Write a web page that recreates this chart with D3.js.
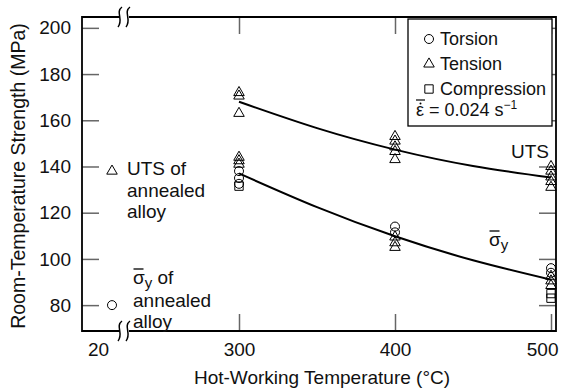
<!DOCTYPE html>
<html>
<head>
<meta charset="utf-8">
<script src="https://cdn.jsdelivr.net/npm/d3@7"></script>
<style>
	body { margin: 0; background: #fff; }
	text { font-family: "Liberation Sans", Arial, Helvetica, sans-serif; fill: #111; }
</style>
</head>
<body>
<div id="chart"></div>
<script>
const yTicks = [80, 100, 120, 140, 160, 180, 200]
const xTicks = [300, 400, 500]
const leftTicks = [20]

// fitted curves, read at 50 degree steps
const fitTemps = [300, 350, 400, 450, 500]
const utsFit = [168, 156.6, 147.3, 140.2, 135.2]
const yieldFit = [137, 122.4, 109.8, 99.4, 91]

// measured points
const tensionUTS = [
	[300, 172], [300, 170.5], [300, 163],
	[400, 153], [400, 151], [400, 148.5], [400, 146.5], [400, 143],
	[500, 140], [500, 138], [500, 135.5], [500, 133.5], [500, 131]
]
const tensionYield = [
	[300, 144], [300, 142.5], [300, 141],
	[400, 109.5], [400, 107], [400, 105],
	[500, 92.5], [500, 90.5], [500, 88.5]
]
const torsionYield = [
	[300, 138], [300, 135], [300, 132.5],
	[400, 114], [400, 111.5],
	[500, 96], [500, 94]
]
const compressionYield = [
	[300, 131.5],
	[500, 85], [500, 83]
]
const annealedTemp = 25
const annealedUTS = 138
const annealedYield = 80

const dimensions = { width: 561, height: 392 }
const margin = { top: 17, right: 5, bottom: 61, left: 82 }

const svg = d3.select('#chart')
	.append('svg')
		.attr('width', dimensions.width)
		.attr('height', dimensions.height)

const x0 = margin.left
const x1 = dimensions.width - margin.right
const y0 = margin.top
const y1 = dimensions.height - margin.bottom

const x = d3.scaleLinear()
	.domain([300, 500])
	.range([239, 551])

const xLeft = d3.scaleLinear()
	.domain([20, 25])
	.range([98, 112])

const y = d3.scaleLinear()
	.domain([68.8, 204.7])
	.range([y1, y0])

const tickColor = '#666'

// axes with inward ticks
const gy = svg.append('g')
	.attr('transform', `translate(${x0},0)`)
	.call(d3.axisLeft(y).tickValues(yTicks).tickSizeInner(-17).tickSizeOuter(0).tickPadding(11))
gy.select('.domain').remove()

const gyr = svg.append('g')
	.attr('transform', `translate(${x1},0)`)
	.call(d3.axisRight(y).tickValues(yTicks).tickSizeInner(-17).tickSizeOuter(0).tickFormat(''))
gyr.select('.domain').remove()

const gx = svg.append('g')
	.attr('transform', `translate(0,${y1})`)
	.call(d3.axisBottom(x).tickValues(xTicks).tickSizeInner(-17).tickSizeOuter(0).tickPadding(12))
gx.select('.domain').remove()
// last label pulled in so it stays on the page
gx.selectAll('.tick text')
	.filter(d => d === 500)
	.attr('text-anchor', 'end')
	.attr('x', 558 - x(500))

const gxl = svg.append('g')
	.attr('transform', `translate(0,${y1})`)
	.call(d3.axisBottom(xLeft).tickValues(leftTicks).tickFormat(d3.format('d')).tickSize(0).tickPadding(12))
gxl.select('.domain').remove()

const gxt = svg.append('g')
	.attr('transform', `translate(0,${y0})`)
	.call(d3.axisTop(x).tickValues(xTicks).tickSizeInner(-17).tickSizeOuter(0).tickFormat(''))
gxt.select('.domain').remove()

svg.selectAll('.tick line')
	.attr('stroke', tickColor)
	.attr('stroke-width', 1.5)
svg.selectAll('.tick text')
	.attr('font-size', 19)
	.attr('fill', '#111')
	.style('font-family', '"Liberation Sans", Arial, sans-serif')

// frame
const breakX = 124
svg.append('path')
	.attr('fill', 'none')
	.attr('stroke', '#000')
	.attr('stroke-width', 1.8)
	.attr('d', `M${breakX - 5},${y0}H${x0}V${y1}H${breakX - 5}M${breakX + 5},${y1}H${x1}V${y0}H${breakX + 5}`)

const squiggle = function(cx, cy) {
	const g = svg.append('g')
		.attr('transform', `translate(${cx},${cy})`)
	g.append('rect')
		.attr('x', -5).attr('y', -3).attr('width', 10).attr('height', 6)
		.attr('fill', '#fff')
	;[-4, 4].forEach(dx => {
		g.append('path')
			.attr('fill', 'none')
			.attr('stroke', '#000')
			.attr('stroke-width', 1.5)
			.attr('d', `M${dx + 2},-10C${dx - 5},-5 ${dx + 4},3 ${dx - 2},10`)
	})
}
squiggle(breakX, y0)
squiggle(breakX, y1)

// fitted curves
const line = d3.line()
	.x((d, i) => x(fitTemps[i]))
	.y(d => y(d))
	.curve(d3.curveNatural)

svg.append('path')
	.attr('fill', 'none')
	.attr('stroke', '#000')
	.attr('stroke-width', 2)
	.attr('d', line(utsFit))

svg.append('path')
	.attr('fill', 'none')
	.attr('stroke', '#000')
	.attr('stroke-width', 2)
	.attr('d', line(yieldFit))

// markers
const triangle = d3.symbol().type(d3.symbolTriangle).size(48)
const square = d3.symbol().type(d3.symbolSquare).size(70)

const drawPoints = function(data, shape, xs) {
	const g = svg.append('g')
		.attr('fill', 'none')
		.attr('stroke', '#000')
		.attr('stroke-width', 1)
	if (shape === 'circle') {
		g.selectAll('circle')
			.data(data)
			.enter().append('circle')
				.attr('cx', d => xs(d[0]))
				.attr('cy', d => y(d[1]))
				.attr('r', 4.5)
	} else {
		g.selectAll('path')
			.data(data)
			.enter().append('path')
				.attr('transform', d => `translate(${xs(d[0])},${y(d[1])})`)
				.attr('d', shape === 'triangle' ? triangle : square)
	}
}

drawPoints(tensionUTS, 'triangle', x)
drawPoints(tensionYield, 'triangle', x)
drawPoints(torsionYield, 'circle', x)
drawPoints(compressionYield, 'square', x)
drawPoints([[annealedTemp, annealedUTS]], 'triangle', xLeft)
drawPoints([[annealedTemp, annealedYield]], 'circle', xLeft)

// curve labels
svg.append('text')
	.attr('x', 511)
	.attr('y', 158)
	.attr('font-size', 19)
	.text('UTS')

const sigmaLabel = function(tx, ty) {
	const t = svg.append('text')
		.attr('x', tx)
		.attr('y', ty)
		.attr('font-size', 19)
	t.append('tspan').text('σ')
	t.append('tspan').attr('font-size', 15).attr('dy', 4).text('y')
	svg.append('line')
		.attr('x1', tx + 0.5).attr('x2', tx + 10.5)
		.attr('y1', ty - 15).attr('y2', ty - 15)
		.attr('stroke', '#000')
		.attr('stroke-width', 1.3)
	return t
}
sigmaLabel(489, 246)

// annealed alloy annotations
const note = svg.append('text')
	.attr('x', 127)
	.attr('font-size', 19)
;[['UTS of', 175], ['annealed', 197], ['alloy', 218]].forEach(d => {
	note.append('tspan').attr('x', 127).attr('y', d[1]).text(d[0])
})

const s = sigmaLabel(133, 284)
s.append('tspan').attr('dy', -4).text(' of')
const note2 = svg.append('text')
	.attr('font-size', 19)
;[['annealed', 307], ['alloy', 328]].forEach(d => {
	note2.append('tspan').attr('x', 133).attr('y', d[1]).text(d[0])
})

// legend
const legend = svg.append('g')
	.attr('transform', 'translate(408,19)')
legend.append('rect')
	.attr('width', 144)
	.attr('height', 107)
	.attr('fill', '#fff')
	.attr('stroke', '#000')
	.attr('stroke-width', 1.3)

const legendItems = [
	{ shape: 'circle', label: 'Torsion', y: 20 },
	{ shape: 'triangle', label: 'Tension', y: 45 },
	{ shape: 'square', label: 'Compression', y: 70 }
]
legendItems.forEach(d => {
	if (d.shape === 'circle') {
		legend.append('circle')
			.attr('cx', 21).attr('cy', d.y).attr('r', 4.5)
			.attr('fill', 'none').attr('stroke', '#000')
	} else {
		legend.append('path')
			.attr('transform', `translate(21,${d.y})`)
			.attr('d', d.shape === 'triangle' ? triangle : square)
			.attr('fill', 'none').attr('stroke', '#000')
	}
	legend.append('text')
		.attr('x', 32)
		.attr('y', d.y + 6)
		.attr('font-size', 18)
		.text(d.label)
})

const rate = legend.append('text')
	.attr('x', 8)
	.attr('y', 97)
	.attr('font-size', 18)
rate.append('tspan').text('ε = 0.024 s')
rate.append('tspan').attr('font-size', 12).attr('dy', -7).text('−1')
legend.append('line')
	.attr('x1', 8).attr('x2', 17)
	.attr('y1', 81).attr('y2', 81)
	.attr('stroke', '#000').attr('stroke-width', 1.2)
legend.append('circle')
	.attr('cx', 12.5).attr('cy', 84.5).attr('r', 1)
	.attr('fill', '#000')

// axis titles
svg.append('text')
	.attr('x', 322)
	.attr('y', 384)
	.attr('text-anchor', 'middle')
	.attr('font-size', 19)
	.text('Hot-Working Temperature (°C)')

svg.append('text')
	.attr('transform', `translate(25,${(y0 + y1) / 2 + 2}) rotate(-90)`)
	.attr('text-anchor', 'middle')
	.attr('font-size', 19.5)
	.text('Room-Temperature Strength (MPa)')
</script>
</body>
</html>
